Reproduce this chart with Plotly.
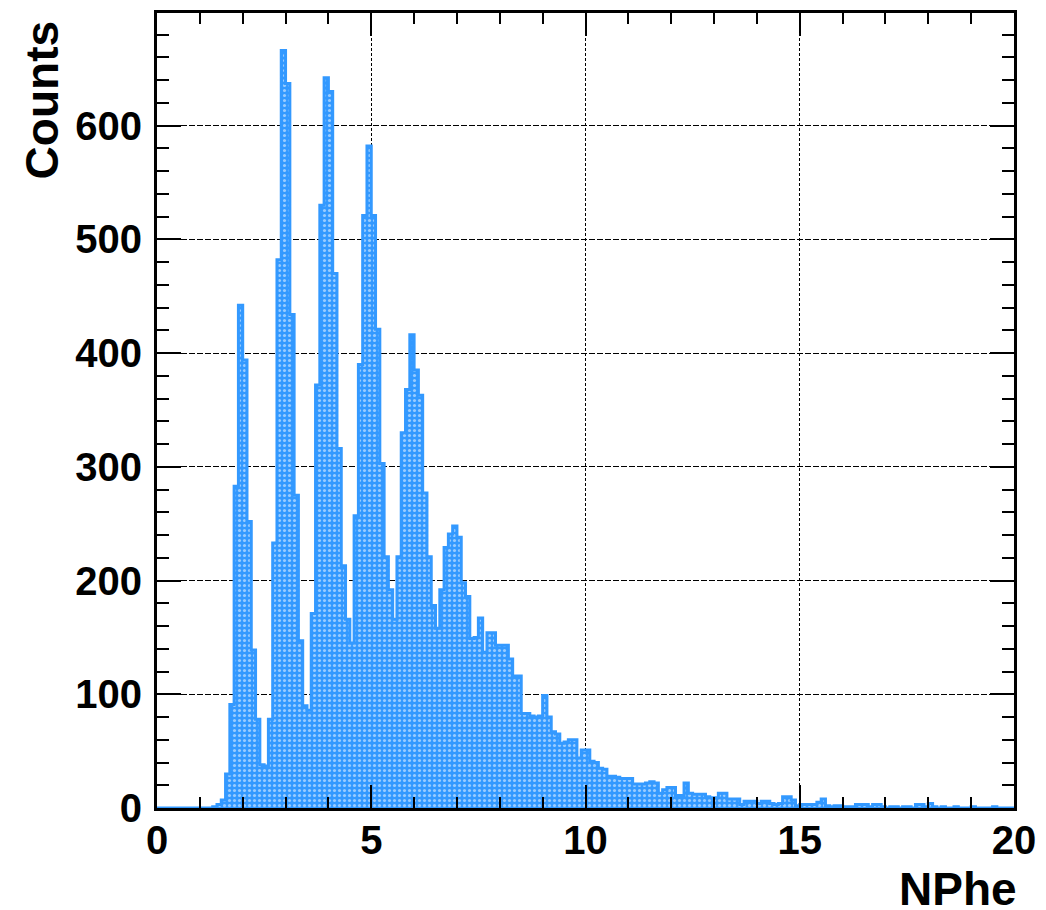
import plotly.graph_objects as go

# ---------------- data ----------------
x_min = 0.0
x_max = 20.0
bin_width = 0.1

counts = [
    0, 0, 0, 0, 0, 0, 0, 0, 0, 0,          # 0.0 - 1.0
    0, 0, 0, 1, 3, 7, 30, 91, 283, 442,    # 1.0 - 2.0
    394, 252, 139, 78, 38, 37, 78, 233, 482, 666,   # 2.0 - 3.0
    637, 434, 275, 147, 90, 86, 171, 372, 530, 642,  # 3.0 - 4.0
    630, 470, 316, 213, 166, 145, 257, 390, 521, 582,  # 4.0 - 5.0
    521, 421, 303, 221, 192, 166, 221, 330, 368, 416,  # 5.0 - 6.0
    385, 363, 277, 221, 178, 158, 192, 229, 241, 248,  # 6.0 - 7.0
    238, 198, 186, 149, 150, 167, 137, 154, 154, 143,  # 7.0 - 8.0
    143, 143, 131, 116, 116, 83, 83, 81, 80, 81,       # 8.0 - 9.0
    99, 80, 67, 65, 57, 58, 60, 60, 44, 51,            # 9.0 - 10.0
    51, 41, 40, 35, 34, 28, 28, 27, 26, 26,            # 10.0 - 11.0
    26, 21, 21, 21, 22, 23, 22, 13, 16, 18,            # 11.0 - 12.0
    18, 11, 11, 22, 13, 12, 12, 12, 10, 9,             # 12.0 - 13.0
    9, 13, 13, 8, 8, 8, 3, 6, 6, 6,                    # 13.0 - 14.0
    4, 6, 6, 4, 3, 4, 10, 10, 7, 2,                    # 14.0 - 15.0
    3, 3, 3, 3, 5, 8, 2, 1, 2, 2,                      # 15.0 - 16.0
    1, 1, 1, 3, 3, 3, 1, 3, 3, 1,                      # 16.0 - 17.0
    0, 1, 1, 0, 1, 1, 0, 3, 3, 1,                      # 17.0 - 18.0
    4, 1, 0, 1, 0, 0, 1, 0, 0, 0,                      # 18.0 - 19.0
    1, 0, 0, 0, 0, 1, 0, 0, 0, 0,                      # 19.0 - 20.0
]

x_tick_step = 5
x_minor_step = 1
y_tick_step = 100
y_minor_step = 20
y_max = 699

x_title = "NPhe"
y_title = "Counts"

# ---------------- derived ----------------
n_bins = len(counts)
centers = [x_min + (i + 0.5) * bin_width for i in range(n_bins)]
edges = [x_min + i * bin_width for i in range(n_bins + 1)]
step_y = counts + [counts[-1]]

BLUE = "#3399ff"
FONT = "Liberation Sans"

fig = go.Figure()

fig.add_trace(go.Bar(
    x=centers, y=counts, width=bin_width,
    marker=dict(
        color=BLUE,
        line=dict(width=0),
        pattern=dict(shape=".", bgcolor=BLUE, fgcolor="white",
                     size=5, solidity=0.3),
    ),
    hoverinfo="skip",
))

fig.add_trace(go.Scatter(
    x=edges, y=step_y, mode="lines",
    line=dict(shape="hv", color=BLUE, width=3),
    hoverinfo="skip",
))

tickfont = dict(family=FONT, size=40, color="black", weight="bold")

fig.update_xaxes(
    range=[x_min, x_max],
    tickmode="linear", tick0=0, dtick=x_tick_step,
    ticks="inside", ticklen=23, tickwidth=2, tickcolor="black",
    minor=dict(ticks="inside", dtick=x_minor_step, tick0=0, ticklen=11,
               tickwidth=2, tickcolor="black", showgrid=False),
    showline=True, linewidth=3, linecolor="black", mirror="ticks",
    showgrid=True, gridcolor="black", gridwidth=1, griddash="3px,2px",
    zeroline=False,
    tickfont=tickfont, ticklabelstandoff=-5,
)

fig.update_yaxes(
    range=[0, y_max],
    tickmode="linear", tick0=0, dtick=y_tick_step,
    ticks="inside", ticklen=24, tickwidth=2, tickcolor="black",
    minor=dict(ticks="inside", dtick=y_minor_step, tick0=0, ticklen=12,
               tickwidth=2, tickcolor="black", showgrid=False),
    showline=True, linewidth=3, linecolor="black", mirror="ticks",
    showgrid=True, gridcolor="black", gridwidth=1, griddash="6px,2px",
    zeroline=False,
    tickfont=tickfont, ticklabelstandoff=4,
)

fig.update_layout(
    width=1046, height=910,
    margin=dict(l=157, r=29, t=10, b=102),
    plot_bgcolor="white", paper_bgcolor="white",
    bargap=0, showlegend=False,
    annotations=[
        dict(text=y_title, xref="paper", yref="paper",
             x=-0.1337, y=0.9925, xanchor="center", yanchor="top",
             textangle=-90, showarrow=False,
             font=dict(family=FONT, size=46, color="black", weight="bold")),
        dict(text=x_title, xref="paper", yref="paper",
             x=1.0, y=-0.1015, xanchor="right", yanchor="middle",
             xshift=5, showarrow=False,
             font=dict(family=FONT, size=46, color="black", weight="bold")),
    ],
)

fig.write_html("out.html")
